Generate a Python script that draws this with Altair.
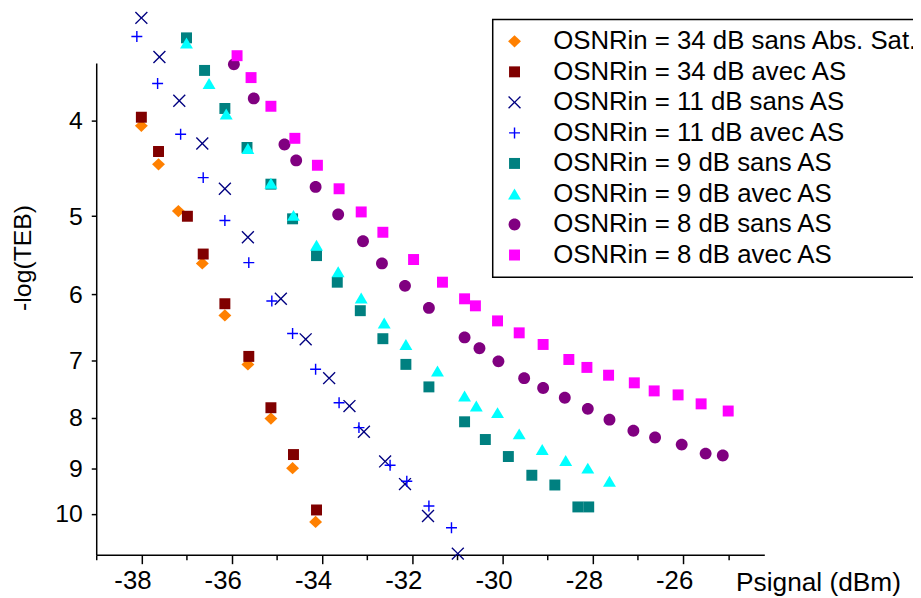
import altair as alt
import pandas as pd

series_names = [
    "OSNRin = 34 dB sans Abs. Sat.",
    "OSNRin = 34 dB avec AS",
    "OSNRin = 11 dB sans AS",
    "OSNRin = 11 dB avec AS",
    "OSNRin = 9 dB sans AS",
    "OSNRin = 9 dB avec AS",
    "OSNRin = 8 dB sans AS",
    "OSNRin = 8 dB avec AS",
]

x_34_sans = [-38.0, -37.62, -37.18, -36.65, -36.15, -35.64, -35.13, -34.65, -34.14]
y_34_sans = [4.05, 4.43, 4.94, 5.58, 6.30, 7.06, 8.01, 8.99, 10.19]

x_34_avec = [-38.0, -37.62, -36.98, -36.63, -36.15, -35.62, -35.13, -34.63, -34.12]
y_34_avec = [3.97, 4.30, 5.00, 5.46, 6.13, 6.93, 7.81, 8.71, 9.91]

x_11_sans = [-38.0, -37.6, -37.16, -36.65, -36.15, -35.64, -34.91, -34.36, -33.84,
             -33.39, -33.07, -32.6, -32.16, -31.65, -30.99]
y_11_sans = [3.15, 3.45, 3.82, 4.22, 4.69, 5.25, 6.06, 6.66, 7.29,
             7.78, 8.26, 8.85, 9.33, 10.05, 10.97]

x_11_avec = [-38.1, -37.64, -37.13, -36.63, -36.15, -35.62, -35.11, -34.65, -34.14,
             -33.62, -33.18, -32.49, -32.12, -31.63, -31.13]
y_11_avec = [3.29, 3.67, 4.13, 4.57, 5.05, 5.57, 6.09, 6.57, 7.14,
             7.72, 8.18, 8.93, 9.27, 9.82, 10.33]

x_9_sans = [-37.0, -36.6, -36.15, -35.66, -35.13, -34.65, -34.12, -33.66, -33.15, -32.65,
            -32.14, -31.63, -30.84, -30.38, -29.87, -29.35, -28.84, -28.33, -28.09]
y_9_sans = [3.30, 3.56, 3.89, 4.26, 4.64, 5.03, 5.48, 5.83, 6.23, 6.65,
            7.06, 7.44, 8.07, 8.41, 8.75, 9.14, 9.35, 9.84, 9.84]

x_9_avec = [-37.0, -36.5, -36.12, -35.64, -35.13, -34.63, -34.12, -33.64, -33.13, -32.62,
            -32.14, -31.44, -30.84, -30.58, -30.11, -29.63, -29.12, -28.6, -28.11, -27.63]
y_9_avec = [3.34, 3.67, 3.94, 4.27, 4.63, 4.99, 5.35, 5.69, 6.05, 6.41,
            6.74, 7.17, 7.60, 7.78, 7.90, 8.30, 8.61, 8.83, 8.99, 9.27]

x_8_sans = [-35.95, -35.51, -34.83, -34.57, -34.14, -33.64, -33.09, -32.67, -32.16, -31.63,
            -30.84, -30.51, -30.09, -29.52, -29.1, -28.62, -28.11, -27.63, -27.1, -26.62,
            -26.03, -25.5, -25.12]
y_8_sans = [3.51, 3.80, 4.23, 4.39, 4.67, 4.98, 5.30, 5.58, 5.88, 6.19,
            6.63, 6.80, 7.01, 7.29, 7.46, 7.63, 7.83, 8.03, 8.24, 8.37,
            8.51, 8.69, 8.73]

x_8_avec = [-35.88, -35.57, -35.13, -34.6, -34.1, -33.62, -33.13, -32.65, -31.97, -31.33,
            -30.84, -30.6, -30.11, -29.63, -29.1, -28.53, -28.13, -27.65, -27.08, -26.64,
            -26.11, -25.6, -25.0]
y_8_avec = [3.44, 3.62, 3.87, 4.17, 4.44, 4.69, 4.95, 5.19, 5.53, 5.83,
            6.06, 6.16, 6.38, 6.56, 6.74, 6.98, 7.11, 7.24, 7.37, 7.51,
            7.58, 7.74, 7.87]

x_ticks = [-39, -38, -37, -36, -35, -34, -33, -32, -31, -30, -29, -28, -27, -26, -25]
y_ticks = [4, 5, 6, 7, 8, 9, 10]

colors = ["#FF8000", "#800000", "#000080", "#0000FF",
          "#008080", "#00FFFF", "#800080", "#FF00FF"]

diamond = "M0,-0.95L1,0L0,0.95L-1,0Z"
square = "M-0.85,-0.85L0.85,-0.85L0.85,0.85L-0.85,0.85Z"
xcross = ("M-0.85,-1L0,-0.15L0.85,-1L1,-0.85L0.15,0L1,0.85L0.85,1L0,0.15"
          "L-0.85,1L-1,0.85L-0.15,0L-1,-0.85Z")
plus = ("M-0.85,-0.11L-0.11,-0.11L-0.11,-0.85L0.11,-0.85L0.11,-0.11L0.85,-0.11"
        "L0.85,0.11L0.11,0.11L0.11,0.85L-0.11,0.85L-0.11,0.11L-0.85,0.11Z")
triangle = "M0,-0.85L1,0.85L-1,0.85Z"
circle = "M-0.92,0A0.92,0.92,0,1,1,0.92,0A0.92,0.92,0,1,1,-0.92,0Z"
shapes = [diamond, square, xcross, plus, square, triangle, circle, square]

xs = [x_34_sans, x_34_avec, x_11_sans, x_11_avec, x_9_sans, x_9_avec, x_8_sans, x_8_avec]
ys = [y_34_sans, y_34_avec, y_11_sans, y_11_avec, y_9_sans, y_9_avec, y_8_sans, y_8_avec]

rows = []
for i, (name, xv, yv) in enumerate(zip(series_names, xs, ys)):
    for a, b in zip(xv, yv):
        rows.append({"series": name, "order": i, "P": a, "TEB": b})
df = pd.DataFrame(rows)

FONT = "Liberation Sans"

x_axis = alt.Axis(
    values=x_ticks,
    labelExpr="datum.value % 2 === 0 ? '' + datum.value : ''",
    tickSize={"condition": {"test": "datum.value % 2 === 0", "value": 9}, "value": 5},
    labelPadding=4,
    labelOffset=-9,
    labelFontSize=26,
    labelFont=FONT,
    labelColor="black",
    title="Psignal (dBm)",
    titleFont=FONT,
    titleFontSize=26.5,
    titleFontWeight="normal",
    titleColor="black",
    titleX=645,
    titleY=36,
    titleAlign="left",
    titleBaseline="alphabetic",
    grid=False,
    domainColor="black",
    domainWidth=1.5,
    tickColor="black",
    tickWidth=1.5,
)

y_axis = alt.Axis(
    values=y_ticks,
    labelExpr="'' + datum.value",
    tickSize=5,
    labelPadding=9,
    labelFontSize=25,
    labelFont=FONT,
    labelColor="black",
    title="-log(TEB)",
    titleFont=FONT,
    titleFontSize=25,
    titleFontWeight="normal",
    titleColor="black",
    titleX=-74,
    titleY=196,
    titleAngle=270,
    titleAlign="center",
    titleBaseline="middle",
    grid=False,
    domainColor="black",
    domainWidth=1.5,
    tickColor="black",
    tickWidth=1.5,
)

legend = alt.Legend(
    orient="none",
    legendX=400,
    legendY=-44,
    title=None,
    strokeColor="black",
    padding=9,
    symbolOffset=0,
    labelOffset=26,
    labelFontSize=26,
    labelFont=FONT,
    labelColor="black",
    labelLimit=800,
    rowPadding=4.8,
    symbolSize=169,
    symbolStrokeWidth=0,
    symbolOpacity=1,
)

chart = alt.Chart(df).mark_point(
    filled=True, size=169, opacity=1, strokeWidth=0
).encode(
    x=alt.X("P:Q", scale=alt.Scale(domain=[-39, -24.2], nice=False, zero=False), axis=x_axis),
    y=alt.Y("TEB:Q", scale=alt.Scale(type="log", domain=[3.5, 11], nice=False, reverse=True),
            axis=y_axis),
    color=alt.Color("series:N", scale=alt.Scale(domain=series_names, range=colors), legend=legend),
    shape=alt.Shape("series:N", scale=alt.Scale(domain=series_names, range=shapes), legend=legend),
    order=alt.Order("order:Q"),
).properties(
    width=674,
    height=496,
    autosize=alt.AutoSizeParams(type="none"),
    padding={"left": 89, "top": 53, "right": 150, "bottom": 41},
).configure(
    font=FONT
).configure_view(
    stroke="transparent", strokeWidth=0
).configure_legend(
    strokeWidth=1.5
)

chart.save("out.html", embed_options={"renderer": "svg", "actions": False})
